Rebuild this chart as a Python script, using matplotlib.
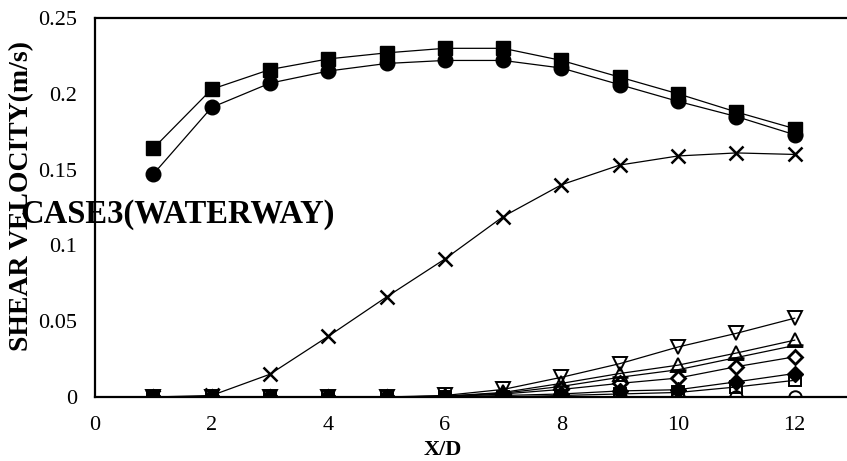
#!/usr/bin/env python3
# -*- coding: utf-8 -*-

import matplotlib
matplotlib.use("Agg")
import matplotlib.pyplot as plt

# X/D positions
xd = [1, 2, 3, 4, 5, 6, 7, 8, 9, 10, 11, 12]

# shear velocity (m/s)
sq_filled = [0.164, 0.203, 0.216, 0.223, 0.227, 0.230, 0.230, 0.222, 0.211, 0.200, 0.188, 0.177]
circ_filled = [0.147, 0.191, 0.207, 0.215, 0.220, 0.222, 0.222, 0.217, 0.206, 0.195, 0.185, 0.173]
cross = [0.000, 0.001, 0.015, 0.040, 0.066, 0.091, 0.119, 0.140, 0.153, 0.159, 0.161, 0.160]
tri_down = [0, 0, 0, 0, 0, 0.001, 0.005, 0.013, 0.022, 0.033, 0.042, 0.052]
tri_up = [0, 0, 0, 0, 0, 0.0005, 0.003, 0.009, 0.0155, 0.021, 0.029, 0.0375]
bar = [0, 0, 0, 0, 0, 0.0005, 0.0025, 0.007, 0.013, 0.018, 0.026, 0.034]
dia_open = [0, 0, 0, 0, 0, 0, 0.002, 0.005, 0.009, 0.0125, 0.020, 0.0265]
dia_filled = [0, 0, 0, 0, 0, 0, 0.001, 0.002, 0.004, 0.0048, 0.010, 0.0155]
sq_open = [0, 0, 0, 0, 0, 0, 0, 0.001, 0.002, 0.003, 0.0066, 0.011]
circ_open = [0, 0, 0, 0, 0, 0, 0, 0, 0, 0, 0, 0]

xticks = [0, 2, 4, 6, 8, 10, 12]
yticks = [0, 0.05, 0.1, 0.15, 0.2, 0.25]
ytick_labels = ["0", "0.05", "0.1", "0.15", "0.2", "0.25"]

plt.rcParams["font.family"] = ["Liberation Serif", "DejaVu Serif"]

fig = plt.figure(figsize=(8.47, 4.61), dpi=100)
ax = fig.add_axes([95 / 847, 1 - 397 / 461, 758 / 847, 379 / 461])

lw = 0.9
mew = 1.4
# open series first, filled on top
ax.plot(xd, circ_open, color="black", lw=lw, marker="o", ms=9, mfc="none", mec="black", mew=mew)
ax.plot(xd, sq_open, color="black", lw=lw, marker="s", ms=9, mfc="none", mec="black", mew=mew)
ax.plot(xd, dia_open, color="black", lw=lw, marker="D", ms=7, mfc="white", mec="black", mew=2.0)
ax.plot(xd, bar, color="black", lw=lw, marker="_", ms=12, mec="black", mew=1.8)
ax.plot(xd, tri_up, color="black", lw=lw, marker="^", ms=10, mfc="none", mec="black", mew=mew)
ax.plot(xd, tri_down, color="black", lw=lw, marker="v", ms=10, mfc="none", mec="black", mew=mew)
ax.plot(xd, dia_filled, color="black", lw=lw, marker="D", ms=8, mfc="black", mec="black")
ax.plot(xd, cross, color="black", lw=lw, marker="x", ms=10, mec="black", mew=1.8)
ax.plot(xd, circ_filled, color="black", lw=lw, marker="o", ms=10.5, mfc="black", mec="black")
ax.plot(xd, sq_filled, color="black", lw=lw, marker="s", ms=10.5, mfc="black", mec="black")

ax.set_xlim(0, 13)
ax.set_ylim(0, 0.25)
ax.set_xticks(xticks)
ax.set_yticks(yticks)
ax.set_yticklabels(ytick_labels)
ax.tick_params(length=0, labelsize=16)
ax.tick_params(axis="y", pad=13)
ax.tick_params(axis="x", pad=14)

for s in ax.spines.values():
    s.set_linewidth(1.6)
ax.spines["right"].set_visible(False)

fig.text(22 / 847, 1 - 196 / 461, "SHEAR VELOCITY(m/s)", rotation=90, fontsize=20,
         fontweight="bold", ha="center", va="center")
fig.text(443 / 847, 1 - 450 / 461, "X/D", fontsize=16, fontweight="bold",
         ha="center", va="center")
fig.text(20 / 847, 1 - 215 / 461, "CASE3(WATERWAY)", fontsize=23.5, fontweight="bold",
         ha="left", va="center")

fig.savefig("out.png", dpi=100)
